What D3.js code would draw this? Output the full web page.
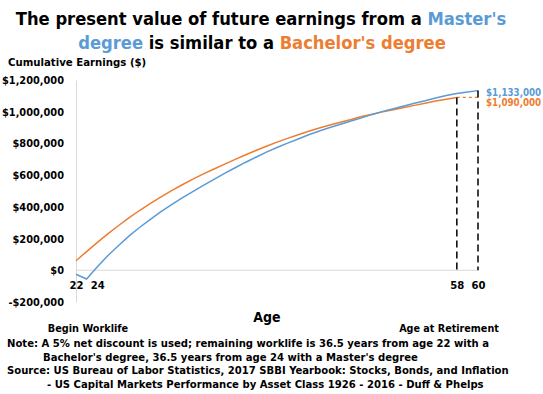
<!DOCTYPE html>
<html>
<head>
<meta charset="utf-8">
<script src="https://cdnjs.cloudflare.com/ajax/libs/d3/7.8.5/d3.min.js"></script>
<style>
    body { margin: 0; background: #fff; }
    svg text { font-family: "DejaVu Sans Condensed", "DejaVu Sans", sans-serif; font-stretch: condensed; font-weight: bold; }
</style>
</head>
<body>
<svg id="chart" width="543" height="394"></svg>
<script>
// values in $ thousands
let bachelorAges = d3.range(22, 59);
let bachelorValues = [60, 118, 174, 230, 281, 330, 377, 421, 462, 501, 538, 573, 606, 637, 668, 698, 727, 755, 782, 808, 832, 855, 877, 897, 916, 934, 951, 970, 984, 999, 1013, 1027, 1040, 1054, 1067, 1079, 1090];
let masterAges = d3.range(22, 61);
let masterValues = [-25, -55, 20, 92, 155, 215, 270, 320, 368, 412, 455, 495, 534, 572, 609, 645, 680, 713, 745, 774, 802, 828, 855, 878, 900, 921, 941, 961, 983, 1002, 1019, 1036, 1053, 1069, 1087, 1102, 1115, 1125, 1133];
let xTicks = [22, 24, 58, 60];
let yTicks = [-200000, 0, 200000, 400000, 600000, 800000, 1000000, 1200000];
let endLabels = ["$1,133,000", "$1,090,000"];

let blue = "#5B9BD5";
let orange = "#ED7D31";

let svg = d3.select("#chart");

let x = d3.scaleLinear().domain([22, 60]).range([76, 478]);
let y = d3.scaleLinear().domain([-200000, 1200000]).range([302, 80]);

// title
let title = svg.append("text").attr("text-anchor", "middle").attr("font-size", 18.2);
title.append("tspan").attr("x", 261).attr("y", 25).text("The present value of future earnings from a ");
title.append("tspan").attr("fill", blue).text("Master's");
let title2 = svg.append("text").attr("text-anchor", "middle").attr("font-size", 18.2);
title2.append("tspan").attr("x", 262).attr("y", 49).attr("fill", blue).text("degree");
title2.append("tspan").text(" is similar to a ");
title2.append("tspan").attr("fill", orange).text("Bachelor's degree");

svg.append("text").attr("x", 8).attr("y", 66).attr("font-size", 11.3).text("Cumulative Earnings ($)");

// y axis
let fmt = d3.format(",");
let yAxis = svg.append("g")
    .attr("transform", "translate(76,0)")
    .call(d3.axisLeft(y).tickValues(yTicks).tickSize(0).tickPadding(12)
        .tickFormat(d => (d < 0 ? "-$" : "$") + fmt(Math.abs(d))));
yAxis.select(".domain").attr("stroke", "#d9d9d9");
yAxis.selectAll("text").attr("font-size", 10.9).attr("fill", "#000");

// zero line + x ticks
svg.append("line")
    .attr("x1", x(22)).attr("x2", x(60))
    .attr("y1", y(0)).attr("y2", y(0))
    .attr("stroke", "#d9d9d9");

let xAxis = svg.append("g")
    .attr("transform", "translate(0," + y(0) + ")")
    .call(d3.axisBottom(x).tickValues(xTicks).tickSize(0).tickPadding(11));
xAxis.select(".domain").remove();
xAxis.selectAll("text").attr("font-size", 11.2).attr("fill", "#000");

// lines
let line = d3.line()
    .x(d => x(d[0]))
    .y(d => y(d[1] * 1000));

svg.append("path")
    .datum(bachelorAges.map((a, i) => [a, bachelorValues[i]]))
    .attr("fill", "none")
    .attr("stroke", orange)
    .attr("stroke-width", 1.5)
    .attr("d", line);

svg.append("path")
    .datum(masterAges.map((a, i) => [a, masterValues[i]]))
    .attr("fill", "none")
    .attr("stroke", blue)
    .attr("stroke-width", 1.5)
    .attr("d", line);

let bEnd = bachelorValues[bachelorValues.length - 1] * 1000;
let mEnd = masterValues[masterValues.length - 1] * 1000;

// orange dashed extension to 60
svg.append("line")
    .attr("x1", x(58)).attr("x2", x(60))
    .attr("y1", y(bEnd)).attr("y2", y(bEnd))
    .attr("stroke", orange).attr("stroke-width", 1.3)
    .attr("stroke-dasharray", "3,3");

// retirement drop lines
[[58, bEnd], [60, mEnd]].forEach(p => {
    svg.append("line")
        .attr("x1", x(p[0])).attr("x2", x(p[0]))
        .attr("y1", y(p[1])).attr("y2", y(0))
        .attr("stroke", "#000").attr("stroke-width", 1.5)
        .attr("stroke-dasharray", "7,4");
});

svg.append("text").attr("x", x(60) + 8).attr("y", y(mEnd) + 5)
    .attr("font-size", 9.7).attr("fill", blue).text(endLabels[0]);
svg.append("text").attr("x", x(60) + 8).attr("y", y(bEnd) + 9)
    .attr("font-size", 9.7).attr("fill", orange).text(endLabels[1]);

// axis title and notes
svg.append("text").attr("x", 267).attr("y", 322).attr("text-anchor", "middle").attr("font-size", 14).text("Age");
svg.append("text").attr("x", 88).attr("y", 332).attr("text-anchor", "middle").attr("font-size", 10.8).text("Begin Worklife");
svg.append("text").attr("x", 449).attr("y", 332).attr("text-anchor", "middle").attr("font-size", 10.7).text("Age at Retirement");

let notes = [
    [7, 347, "Note:  A 5% net discount is used; remaining worklife is 36.5 years from age 22 with a"],
    [43, 361, "Bachelor's degree, 36.5 years from age 24 with a Master's degree"],
    [7, 374, "Source: US Bureau of Labor Statistics, 2017 SBBI Yearbook: Stocks, Bonds, and Inflation"],
    [47, 388, "- US Capital Markets Performance by Asset Class 1926 - 2016 - Duff & Phelps"]
];
notes.forEach(n => {
    svg.append("text").attr("x", n[0]).attr("y", n[1]).attr("font-size", 11.2).text(n[2]);
});
</script>
</body>
</html>
